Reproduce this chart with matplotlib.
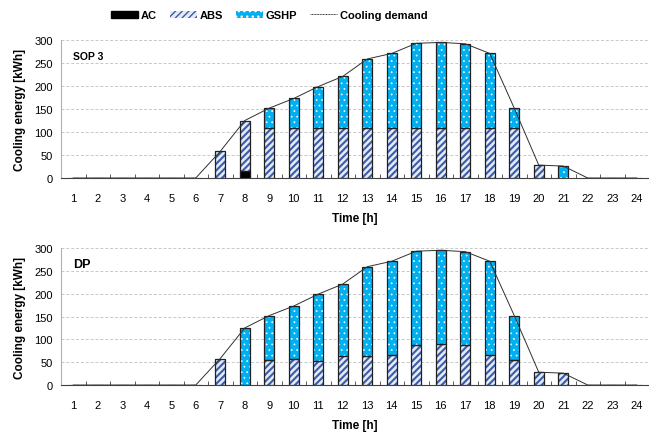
import numpy as np
import matplotlib as mpl
import matplotlib.pyplot as plt
from matplotlib.ticker import MultipleLocator, FixedLocator
from matplotlib.patches import Patch
from matplotlib.lines import Line2D

plt.rcParams['font.family'] = ['Liberation Sans', 'DejaVu Sans']

# data
hours = np.arange(1, 25)
demand = [0, 0, 0, 0, 0, 0, 58, 125, 152, 173, 199, 221, 259, 271, 293, 295, 292, 271, 152, 28, 26, 0, 0, 0]

# SOP 3
sop_ac = [0, 0, 0, 0, 0, 0, 0, 15, 0, 0, 0, 0, 0, 0, 0, 0, 0, 0, 0, 0, 0, 0, 0, 0]
sop_abs = [0, 0, 0, 0, 0, 0, 58, 110, 108, 108, 108, 108, 108, 108, 108, 108, 108, 108, 108, 28, 0, 0, 0, 0]
sop_gshp = [0, 0, 0, 0, 0, 0, 0, 0, 44, 65, 91, 113, 151, 163, 185, 187, 184, 163, 44, 0, 26, 0, 0, 0]

# DP
dp_ac = [0] * 24
dp_abs = [0, 0, 0, 0, 0, 0, 58, 0, 54, 57, 52, 64, 63, 66, 87, 89, 87, 66, 55, 28, 26, 0, 0, 0]
dp_gshp = [0, 0, 0, 0, 0, 0, 0, 125, 98, 116, 147, 157, 196, 205, 206, 206, 205, 205, 97, 0, 0, 0, 0, 0]

ABS_FACE = '#e4ebf7'
ABS_HATCH = '#3a5ca8'
GSHP_FACE = '#00b0f0'
W = 0.42


def panel(ax, ac, absv, gshp, tag, tagsize):
    ac = np.array(ac)
    absv = np.array(absv)
    gshp = np.array(gshp)
    ax.bar(hours, ac, W, color='black', edgecolor='black', linewidth=0.8, zorder=3)
    with mpl.rc_context({'hatch.linewidth': 1.5}):
        ax.bar(hours, absv, W, bottom=ac, color=ABS_FACE, edgecolor=ABS_HATCH,
               hatch='/////', linewidth=0, zorder=3)
    with mpl.rc_context({'hatch.linewidth': 0.5}):
        ax.bar(hours, gshp, W, bottom=ac + absv, color=GSHP_FACE, edgecolor='white',
               hatch='...', linewidth=0, zorder=3)
    # outlines
    for b, h in [(0 * ac, ac), (ac, absv), (ac + absv, gshp)]:
        m = h > 0
        ax.bar(hours[m], h[m], W, bottom=b[m], fill=False,
               edgecolor='#202020', linewidth=0.9, zorder=4)
    ax.plot(hours, demand, color='#303030', lw=0.7, zorder=5)

    ax.set_xlim(0.5, 24.5)
    ax.set_ylim(0, 300)
    ax.yaxis.set_major_locator(MultipleLocator(50))
    ax.set_xticks(hours)
    ax.xaxis.set_minor_locator(FixedLocator(np.arange(0.5, 25, 1)))
    ax.tick_params(axis='x', which='major', length=0, labelsize=8, pad=11)
    ax.tick_params(axis='x', which='minor', length=3, direction='in', color='#404040')
    ax.tick_params(axis='y', length=0, labelsize=8, pad=6)
    ax.grid(axis='y', color='#c8c8c8', linestyle=(0, (3, 2)), linewidth=0.7, zorder=0)
    for s in ['top', 'right']:
        ax.spines[s].set_visible(False)
    ax.spines['left'].set_color('#b0b0b0')
    ax.spines['bottom'].set_color('#404040')
    ax.set_xlabel('Time [h]', fontsize=8.5, fontweight='bold', labelpad=6)
    ax.set_ylabel('Cooling energy [kWh]', fontsize=8.5, fontweight='bold', labelpad=6)
    ax.text(0.02, 0.86, tag, transform=ax.transAxes, fontsize=tagsize, fontweight='bold')


fig = plt.figure(figsize=(6.49, 4.35), dpi=100)
ax1 = fig.add_axes([0.094, 0.5885, 0.906, 0.317])
ax2 = fig.add_axes([0.094, 0.1126, 0.906, 0.315])
panel(ax1, sop_ac, sop_abs, sop_gshp, 'SOP 3', 7.5)
panel(ax2, dp_ac, dp_abs, dp_gshp, 'DP', 9)

with mpl.rc_context({'hatch.linewidth': 1.5}):
    h_abs = Patch(facecolor=ABS_FACE, edgecolor=ABS_HATCH, hatch='/////', linewidth=0)
with mpl.rc_context({'hatch.linewidth': 0.5}):
    h_gshp = Patch(facecolor=GSHP_FACE, edgecolor='white', hatch='...', linewidth=0)
handles = [
    Patch(facecolor='black', edgecolor='black'),
    h_abs,
    h_gshp,
    Line2D([0], [0], color='#303030', lw=0.7, linestyle=(0, (1, 0.6))),
]
fig.legend(handles, ['AC', 'ABS', 'GSHP', 'Cooling demand'], loc='center',
           bbox_to_anchor=(0.415, 0.963), ncol=4, frameon=False,
           prop={'weight': 'bold', 'size': 8}, handlelength=2.4, handleheight=0.6,
           columnspacing=1.2, handletextpad=0.25)

fig.savefig('out.png', dpi=100)
